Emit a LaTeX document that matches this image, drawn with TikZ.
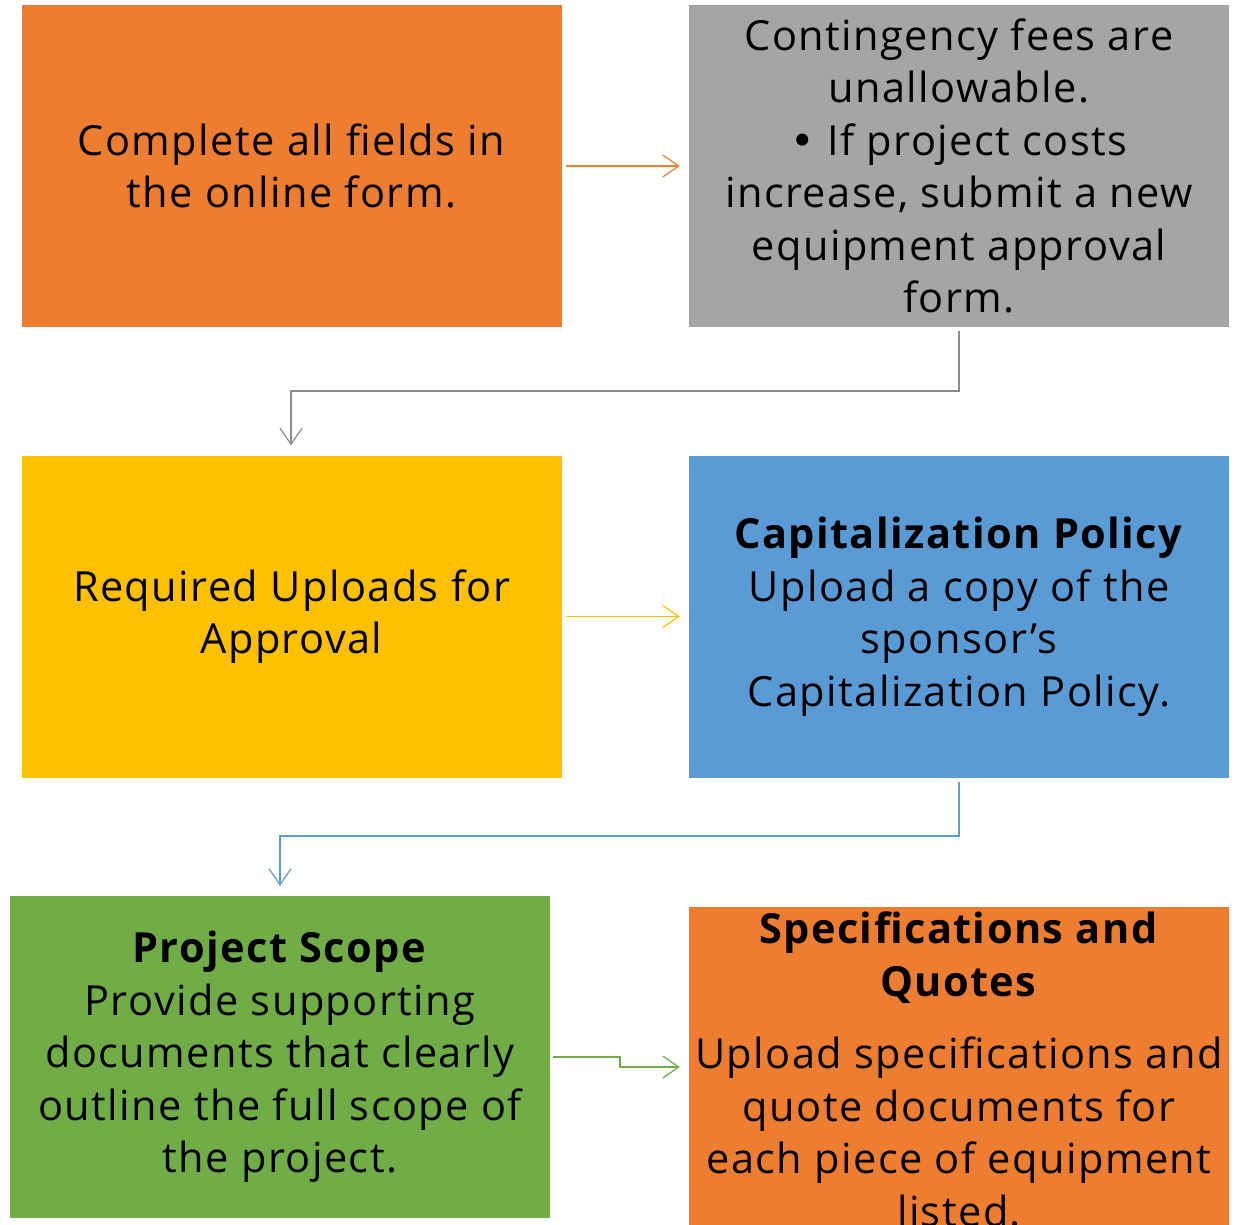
\documentclass[tikz,border=0pt]{standalone}
\usepackage{fontspec}
\setmainfont[LetterSpace=3.5]{Open Sans}
\newfontfamily\bulletfont{DejaVu Sans}
\usetikzlibrary{arrows.meta}
\definecolor{cOrange}{HTML}{ED7D31}
\definecolor{cGray}{HTML}{A5A5A5}
\definecolor{cYellow}{HTML}{FFC000}
\definecolor{cBlue}{HTML}{5B9BD5}
\definecolor{cGreen}{HTML}{70AD47}
\tikzset{
  box/.style={rectangle, inner sep=0pt, minimum width=540pt, minimum height=322pt,
    align=center, font=\fontsize{41.5}{52.5}\selectfont, text=black},
  txt/.style={inner sep=0pt, align=center, font=\fontsize{41.5}{52.5}\selectfont, text=black},
  conn/.style={line width=1.2pt, -{Straight Barb[length=16pt, width=22pt, line width=1.2pt]}},
}
\begin{document}
\begin{tikzpicture}[x=1pt,y=-1pt]
\clip (0,0) rectangle (1240,1225);
\fill[white] (0,0) rectangle (1240,1225);
\node[box, fill=cOrange] (A) at (291.5,166) {Complete all fields in\\the online form.};
\node[box, fill=cGray] (B) at (959,166) {Contingency fees are\\unallowable.\\{\bulletfont •}~If project costs\\increase, submit a new\\equipment approval\\form.};
\node[box, fill=cYellow] (C) at (291.5,616.5) {Required Uploads for\\Approval};
\node[box, fill=cBlue] (D) at (959,616.5) {\textbf{Capitalization Policy}\\Upload a copy of the\\sponsor’s\\Capitalization Policy.};
\node[box, fill=cGreen] (E) at (280,1057) {\textbf{Project Scope}\\Provide supporting\\documents that clearly\\outline the full scope of\\the project.};
\node[box, fill=cOrange] (F) at (959,1068) {};
\node[txt, anchor=north] (Ft) at (959,912) {\textbf{Specifications and}\\\textbf{Quotes}\\[20pt]Upload specifications and\\quote documents for\\each piece of equipment\\listed.};
\coordinate (b1) at (959,391);
\coordinate (b2) at (291,391);
\coordinate (d1) at (959,836);
\coordinate (d2) at (280,836);
\coordinate (e1) at (620,1057);
\coordinate (e2) at (620,1067);
\draw[conn, cGray!85!black] ([yshift=-4pt]B.south) -- (b1) -- (b2) -- ([yshift=10pt]C.north -| b2);
\draw[conn, cOrange] ([xshift=4pt]A.east) -- ([xshift=-9pt]B.west);
\draw[conn, cYellow] ([xshift=4pt]C.east) -- ([xshift=-9pt]D.west);
\draw[conn, cBlue] ([yshift=-4pt]D.south) -- (d1) -- (d2) -- ([yshift=10pt]E.north -| d2);
\draw[conn, cGreen] ([xshift=3pt]E.east) -- (e1) -- (e2) -- ([xshift=-9pt]F.west |- e2);
\end{tikzpicture}
\end{document}
